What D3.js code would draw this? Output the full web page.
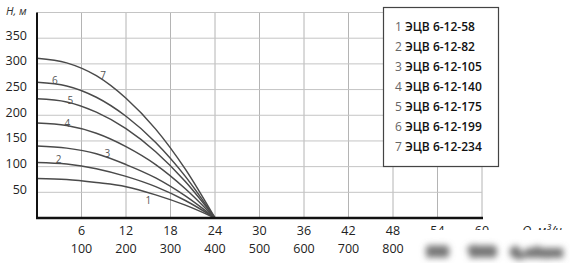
<!DOCTYPE html>
<html><head><meta charset="utf-8">
<script src="https://cdn.jsdelivr.net/npm/d3@7"></script>
<style>body{margin:0;background:#fff}svg{display:block}</style>
</head><body><svg id="c" width="570" height="263"></svg>
<script>
const flowQ = [0, 4, 8, 12, 16, 20, 24];
const curve1 = [77, 75, 69, 61, 45, 25, 0];
const curve2 = [108, 105, 96, 81, 61, 34, 0];
const curve3 = [140, 136, 125, 104, 78, 43, 0];
const curve4 = [185, 180, 165, 139, 104, 57, 0];
const curve5 = [232, 226, 206, 174, 129, 71, 0];
const curve6 = [264, 257, 235, 198, 147, 81, 0];
const curve7 = [311, 302, 277, 233, 173, 95, 0];
const seriesNames = ["ЭЦВ 6-12-58","ЭЦВ 6-12-82","ЭЦВ 6-12-105","ЭЦВ 6-12-140","ЭЦВ 6-12-175","ЭЦВ 6-12-199","ЭЦВ 6-12-234"];
const labelQ = [15, 2.9, 9.5, 4.1, 4.5, 2.4, 8.9];
const labelH = [35, 115, 127, 184, 229, 268, 279];
const xTicks = [6, 12, 18, 24, 30, 36, 42, 48, 54, 60];
const xTicks2 = ["100","200","300","400","500","600","700","800","900","1000"];
const yTicks = [50, 100, 150, 200, 250, 300, 350];

const series = [curve1, curve2, curve3, curve4, curve5, curve6, curve7];
const svg = d3.select("#c");
const font = "'Open Sans', sans-serif";
const x = d3.scaleLinear().domain([0, 60]).range([37, 482]);
const y = d3.scaleLinear().domain([0, 400]).range([218, 12.5]);

const defs = svg.append("defs");
defs.append("filter").attr("id","bl").attr("x","-30%").attr("y","-120%").attr("width","160%").attr("height","340%")
  .append("feGaussianBlur").attr("stdDeviation", 3.4);

// grid
const g = svg.append("g");
g.selectAll("line.v").data(xTicks).join("line")
  .attr("x1", d => x(d)).attr("x2", d => x(d)).attr("y1", y(400)).attr("y2", y(0))
  .attr("stroke", "#b4b4b4").attr("stroke-width", 1);
g.selectAll("line.h").data(yTicks.concat([400])).join("line")
  .attr("x1", x(0)).attr("x2", x(60)).attr("y1", d => y(d)).attr("y2", d => y(d))
  .attr("stroke", "#c4c4c4").attr("stroke-width", 1);

// curves
const line = d3.line().x(d => x(d[0])).y(d => y(d[1])).curve(d3.curveMonotoneX);
svg.selectAll("path.c").data(series).join("path")
  .attr("d", s => line(flowQ.map((q, i) => [q, s[i]])))
  .attr("fill", "none").attr("stroke", "#4a4a4a").attr("stroke-width", 1.5);

// curve labels
svg.selectAll("text.cl").data(series).join("text")
  .attr("x", (d, i) => x(labelQ[i])).attr("y", (d, i) => y(labelH[i]))
  .attr("text-anchor", "middle").attr("dominant-baseline", "central")
  .attr("font-family", font).attr("font-size", 10).attr("fill", "#555")
  .text((d, i) => i + 1);

// axes lines
svg.append("line").attr("x1", x(0)).attr("x2", x(0)).attr("y1", y(400)).attr("y2", y(0) + 1)
  .attr("stroke", "#111").attr("stroke-width", 2);
svg.append("line").attr("x1", x(0) - 1).attr("x2", x(60) + 1).attr("y1", y(0)).attr("y2", y(0))
  .attr("stroke", "#111").attr("stroke-width", 2.5);

// y tick labels
svg.selectAll("text.yt").data(yTicks).join("text")
  .attr("x", 27).attr("y", d => y(d) - 3).attr("text-anchor", "end").attr("dominant-baseline", "central")
  .attr("font-family", font).attr("font-size", 12.5).attr("fill", "#222").text(d => d);
svg.append("text").attr("x", 6).attr("y", 10).attr("dominant-baseline", "central")
  .attr("font-family", font).attr("font-size", 11).attr("font-style", "italic").attr("fill", "#333").text("Н, м");

// x tick labels
svg.selectAll("text.xt").data(xTicks.slice(0, 8)).join("text")
  .attr("x", d => x(d)).attr("y", 230).attr("text-anchor", "middle").attr("dominant-baseline", "central")
  .attr("font-family", font).attr("font-size", 12.5).attr("fill", "#222").text(d => d);
svg.selectAll("text.xt2").data(xTicks2.slice(0, 8)).join("text")
  .attr("x", (d, i) => x(xTicks[i])).attr("y", 248).attr("text-anchor", "middle").attr("dominant-baseline", "central")
  .attr("font-family", font).attr("font-size", 12.5).attr("fill", "#222").text(d => d);

// blurred corner (watermark area): top row half visible, bottom row blurred
const clip = defs.append("clipPath").attr("id","topc");
clip.append("rect").attr("x", 420).attr("y", 215).attr("width", 150).attr("height", 15);
const tg = svg.append("g").attr("clip-path", "url(#topc)");
xTicks.slice(8).forEach(t => tg.append("text").attr("x", x(t)).attr("y", 230).attr("text-anchor","middle")
  .attr("dominant-baseline","central").attr("font-family", font).attr("font-size", 12.5).attr("fill","#222").text(t));
tg.append("text").attr("x", 562).attr("y", 230).attr("text-anchor","end").attr("dominant-baseline","central")
  .attr("font-family", font).attr("font-size", 12.5).attr("font-style","italic").attr("fill","#222").text("Q, м³/ч");
const bg = svg.append("g").attr("filter","url(#bl)");
xTicks.slice(8).forEach((t, k) => bg.append("text").attr("x", x(t)).attr("y", 251).attr("text-anchor","middle")
  .attr("dominant-baseline","central").attr("font-family", font).attr("font-size", 12).attr("font-weight", 700)
  .attr("fill","#666").attr("stroke","#777").attr("stroke-width", 4).text(xTicks2[8 + k]));
bg.append("text").attr("x", 562).attr("y", 251).attr("text-anchor","end").attr("dominant-baseline","central")
  .attr("font-family", font).attr("font-size", 11).attr("font-weight", 700)
  .attr("fill","#666").attr("stroke","#777").attr("stroke-width", 4).text("Q, л/мин");

// legend
const lg = svg.append("g");
lg.append("rect").attr("x", 383.5).attr("y", 7.5).attr("width", 115).attr("height", 159)
  .attr("fill", "#fff").attr("stroke", "#444").attr("stroke-width", 1.2);
const lt = lg.selectAll("text").data(seriesNames).join("text")
  .attr("x", 395).attr("y", (d, i) => 26 + i * 20).attr("dominant-baseline", "central")
  .attr("font-family", font).attr("font-size", 12).attr("font-weight", 600).attr("fill", "#111");
lt.append("tspan").attr("fill", "#666").attr("font-weight", 400).text((d, i) => (i + 1) + " ");
lt.append("tspan").text(d => d);
</script></body></html>
